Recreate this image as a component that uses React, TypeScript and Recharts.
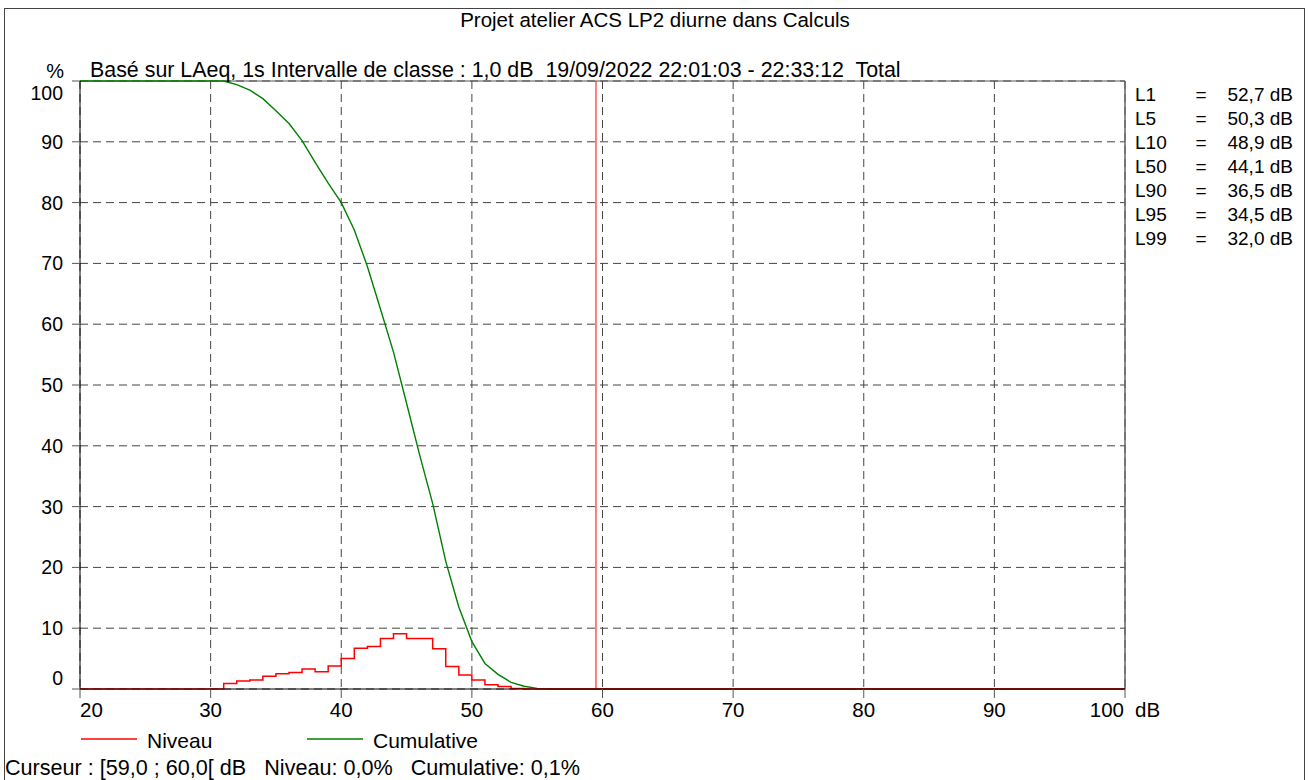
import React from 'react';
import { ComposedChart, Line, XAxis, YAxis, CartesianGrid, ReferenceLine } from 'recharts';

// level classes (dB, class start) and share of time per class (%)
const niveauLevels = [20, 31, 32, 33, 34, 35, 36, 37, 38, 39, 40, 41, 42, 43, 44, 45, 46, 47, 48, 49, 50, 51, 52, 53, 54, 100];
const niveauValues = [0, 0.9, 1.3, 1.5, 2.1, 2.5, 2.7, 3.3, 2.85, 3.8, 5.0, 6.7, 7.0, 8.3, 9.1, 8.3, 8.3, 6.6, 3.7, 2.3, 1.5, 0.7, 0.4, 0.1, 0, 0];

// cumulative exceedance curve (%)
const cumulLevels = [20, 31, 32, 33, 34, 35, 36, 37, 38, 39, 40, 41, 42, 43, 44, 45, 46, 47, 48, 49, 50, 51, 52, 53, 54, 55, 56, 100];
const cumulValues = [100, 100, 99.4, 98.5, 97.1, 95.1, 93.0, 90.2, 86.6, 83.2, 80.0, 75.5, 69.5, 62.5, 55.4, 47.0, 38.5, 30.5, 21.0, 13.5, 7.8, 4.2, 2.4, 1.1, 0.45, 0.1, 0, 0];

const dbTicks = [20, 30, 40, 50, 60, 70, 80, 90, 100];
const pctTicks = [0, 10, 20, 30, 40, 50, 60, 70, 80, 90, 100];

const statNames = ['L1', 'L5', 'L10', 'L50', 'L90', 'L95', 'L99'];
const statValues = ['52,7', '50,3', '48,9', '44,1', '36,5', '34,5', '32,0'];

const cursorLevel = 59.5;

const niveauData = niveauLevels.map((db, i) => ({ db, niveau: niveauValues[i] }));
const cumulData = cumulLevels.map((db, i) => ({ db, cumul: cumulValues[i] }));

const FONT = '"Liberation Sans", Arial, sans-serif';
const W = 1311;
const H = 780;

const YTick = (props: any) => {
  const { x, y, payload } = props;
  let dy = 0;
  if (payload.value === 100) dy = 12;
  if (payload.value === 0) dy = -11;
  return (
    <text x={x} y={y + dy} dy="0.36em" textAnchor="end" fontSize={19.5} fontFamily={FONT} fill="#000">
      {payload.value}
    </text>
  );
};

const XTick = (props: any) => {
  const { x, y, payload } = props;
  let anchor: 'start' | 'middle' | 'end' = 'middle';
  let dx = 0;
  if (payload.value === 20) anchor = 'start';
  if (payload.value === 100) {
    anchor = 'end';
    dx = -1;
  }
  return (
    <text x={x + dx} y={y} dy="0.71em" textAnchor={anchor} fontSize={20.5} fontFamily={FONT} fill="#000">
      {payload.value}
    </text>
  );
};

export default function App() {
  return (
    <div style={{ position: 'absolute', left: 0, top: 0, width: W, height: H, background: '#fff', overflow: 'hidden' }}>
      <ComposedChart width={W} height={H} margin={{ top: 81, right: 186, bottom: 61, left: 20 }}>
        <CartesianGrid stroke="#444" strokeDasharray="8 5" />
        <XAxis
          type="number"
          dataKey="db"
          domain={[20, 100]}
          ticks={dbTicks}
          allowDataOverflow
          height={30}
          tickSize={9}
          tickMargin={4}
          tick={<XTick />}
          axisLine={{ stroke: '#000' }}
          tickLine={{ stroke: '#555' }}
        />
        <YAxis
          type="number"
          domain={[0, 100]}
          ticks={pctTicks}
          width={60}
          tickSize={8}
          tickMargin={9}
          tick={<YTick />}
          axisLine={{ stroke: '#000' }}
          tickLine={{ stroke: '#555' }}
        />
        <ReferenceLine y={100} stroke="#555" strokeWidth={1} />
        <ReferenceLine x={100} stroke="#666" strokeWidth={1.5} />
        <ReferenceLine x={cursorLevel} stroke="#ff0000" strokeWidth={1} />
        <Line
          data={cumulData}
          dataKey="cumul"
          type="linear"
          stroke="#008000"
          strokeWidth={1.4}
          dot={false}
          activeDot={false}
          isAnimationActive={false}
        />
        <Line
          data={niveauData}
          dataKey="niveau"
          type="stepAfter"
          stroke="#ff0000"
          strokeWidth={1.5}
          dot={false}
          activeDot={false}
          isAnimationActive={false}
        />
      </ComposedChart>

      <svg
        width={W}
        height={H}
        style={{ position: 'absolute', left: 0, top: 0, pointerEvents: 'none' }}
        fontFamily={FONT}
      >
        <rect x={4.5} y={8.5} width={1300} height={800} fill="none" stroke="#444" />
        <text x={655} y={20} dy="0.36em" textAnchor="middle" fontSize={20.5} fill="#000">
          Projet atelier ACS LP2 diurne dans Calculs
        </text>
        <text x={64} y={71} dy="0.36em" textAnchor="end" fontSize={20} fill="#000">%</text>
        <text x={90} y={69} dy="0.36em" fontSize={21.4} fill="#000" style={{ whiteSpace: 'pre' }}>
          {'Basé sur LAeq, 1s Intervalle de classe : 1,0 dB  19/09/2022 22:01:03 - 22:33:12  Total'}
        </text>
        <text x={1135} y={710} dy="0.36em" fontSize={20.5} fill="#000">dB</text>

        {statNames.map((name, i) => (
          <g key={name}>
            <text x={1135} y={94 + i * 24} dy="0.36em" fontSize={19} fill="#000">{name}</text>
            <text x={1201} y={94 + i * 24} dy="0.36em" textAnchor="middle" fontSize={19} fill="#000">=</text>
            <text x={1293} y={94 + i * 24} dy="0.36em" textAnchor="end" fontSize={19} fill="#000">
              {statValues[i]} dB
            </text>
          </g>
        ))}

        <line x1={81} x2={137} y1={739} y2={739} stroke="#ff0000" strokeWidth={1.5} />
        <text x={147} y={740} dy="0.36em" fontSize={21} fill="#000">Niveau</text>
        <line x1={307} x2={363} y1={739} y2={739} stroke="#008000" strokeWidth={1.5} />
        <text x={373} y={740} dy="0.36em" fontSize={21} fill="#000">Cumulative</text>

        <text x={5} y={767} dy="0.36em" fontSize={21.6} fill="#000" style={{ whiteSpace: 'pre' }}>
          {'Curseur : [59,0 ; 60,0[ dB   Niveau: 0,0%   Cumulative: 0,1%'}
        </text>
      </svg>
    </div>
  );
}
